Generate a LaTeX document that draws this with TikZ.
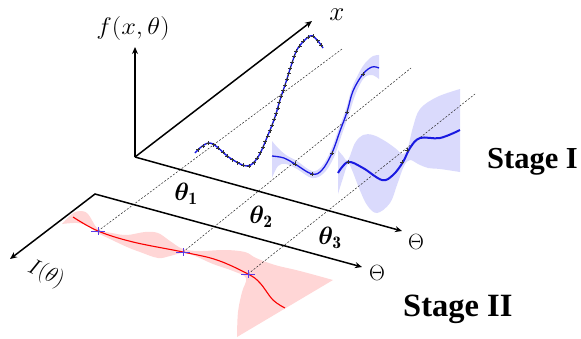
\RequirePackage{fix-cm}
\documentclass[tikz,border=0pt]{standalone}
\usepackage{amsmath}
\usepackage{bm}
\usepackage{fontspec}
\newfontfamily\stagefont{Liberation Serif}
\usetikzlibrary{arrows.meta,decorations.markings}
\definecolor{gpblue}{RGB}{25,25,225}
\definecolor{bandblue}{RGB}{218,218,252}
\definecolor{bandred}{RGB}{255,214,214}
\definecolor{gpred}{RGB}{250,0,0}
\definecolor{crossblue}{RGB}{90,60,230}
\begin{document}
\begin{tikzpicture}[x=1pt,y=-1pt,
  axis/.style={line width=1.5pt,-{Stealth[length=7pt,width=6pt]}},
  bothaxis/.style={line width=1.5pt,{Stealth[length=7pt,width=6pt]}-{Stealth[length=7pt,width=6pt]}},
  guide/.style={black!85,line width=0.5pt,dash pattern=on 2pt off 1.6pt},
  meanline/.style={gpblue,line width=1.4pt},
  datamarks/.style={postaction={decorate},decoration={markings,
     mark=between positions 0.02 and 0.99 step 6pt with {\pgftransformresetnontranslations
       \draw[black!80,line width=0.45pt] (-2pt,0pt)--(2pt,0pt) (0pt,-2pt)--(0pt,2pt);}}},
  blackcross/.style={black!80,line width=0.45pt},
  redcross/.style={crossblue,line width=0.8pt},
  lbl/.style={inner sep=0pt}]
\useasboundingbox (0,0) rectangle (581,338);

% coordinates of the axes
\coordinate (O) at (135,157);
\coordinate (Ftip) at (135,47);
\coordinate (Xtip) at (312,21);
\coordinate (Ttip) at (402,231);
\coordinate (LO) at (95,194);
\coordinate (Itip) at (10,259);
\coordinate (LTtip) at (362,267);

% data crosses (stage II)
\coordinate (c1) at (98,231);
\coordinate (c2) at (183,252);
\coordinate (c3) at (248,274);
\coordinate (e1) at (342,49);
\coordinate (e2) at (411,68);
\coordinate (e3) at (475,94);

% ---------- uncertainty bands ----------
\fill[bandblue] plot[smooth,tension=0.6] coordinates {(272,141) (278,148) (286,155) (297,161) (312,171) (322,166) (331,150) (339,128) (346,109) (352,88) (360,71) (366,62) (373,56) (379,55)}
  -- plot[smooth,tension=0.6] coordinates {(379,79) (372,75) (364,78) (356,93) (349,114) (342,134) (334,157) (324,173) (312,178) (297,169) (286,164) (278,166) (272,178)} -- cycle;

\fill[bandblue] plot[smooth,tension=0.6] coordinates {(338,150) (343,156) (348,160) (355,143) (363,135) (373,135) (385,141) (395,148) (403,154) (408,147) (413,127) (420,109) (437,97) (460,89)}
  -- plot[smooth,tension=0.6] coordinates {(460,172) (440,169) (428,168) (418,164) (410,160) (404,166) (397,185) (390,203) (377,213) (367,205) (359,188) (352,170) (348,164) (343,178) (338,194)} -- cycle;

\fill[bandred] plot[smooth,tension=0.6] coordinates {(62,224) (72,214) (80,211) (88,214) (98,229) (112,233) (127,235) (145,232) (158,233) (170,241) (183,249) (200,251) (225,250) (245,252) (256,258) (275,265) (300,271) (333,280)}
  -- plot[smooth,tension=0.6] coordinates {(237,337) (238,312) (242,292) (246,278) (233,271) (213,264) (195,256) (183,253) (170,256) (158,258) (140,252) (127,247) (110,239) (98,233) (88,226) (77,223) (62,224)} -- cycle;

% ---------- guide lines ----------
\draw[guide] (c1) -- (e1);
\draw[guide] (c2) -- (e2);
\draw[guide] (c3) -- (e3);

% ---------- axes ----------
\draw[axis] (O) -- (Ftip);
\draw[axis] (O) -- (Xtip);
\draw[axis] (O) -- (Ttip);
\draw[bothaxis] (Itip) -- (LO) -- (LTtip);

% ---------- stage I curves ----------
\draw[meanline,datamarks] plot[smooth,tension=0.6] coordinates {(195,153) (210,143) (230,158) (247,166) (258,157) (268,135) (275,117) (280,100) (286,82) (292,63) (298,48) (310,36) (317,40) (323,48)};

\draw[meanline,line width=1.3pt] plot[smooth,tension=0.6] coordinates {(272,156) (284,158) (295,164) (312,174) (322,170) (332,153) (340,131) (347,112) (353,91) (363,74) (372,67) (379,68)};
\foreach \p in {(295,164),(312,174),(332,153),(347,112),(363,74)}
  \draw[blackcross] \p ++(-2,0) -- ++(4,0) \p ++(0,-2) -- ++(0,4);

\draw[meanline,line width=2pt] plot[smooth,tension=0.6] coordinates {(338,173) (348,162) (363,168) (382,180) (393,175) (403,162) (410,148) (420,138) (440,138) (460,130)};
\foreach \p in {(348,162),(402,162),(407,150)}
  \draw[blackcross] \p ++(-2,0) -- ++(4,0) \p ++(0,-2) -- ++(0,4);

% ---------- stage II curve ----------
\draw[gpred,line width=1.1pt] plot[smooth,tension=0.6] coordinates {(73,217) (98,231) (133,242) (183,252) (217,260) (248,274) (260,283) (273,300) (285,308)};
\foreach \c in {c1,c2,c3}
  \draw[redcross] (\c) ++(-7,0) -- ++(14,0) (\c) ++(0,-4) -- ++(0,8);

% ---------- labels ----------
\node[lbl,xscale=1.1] (fl) at (133,28) {\fontsize{24}{28}\selectfont $f(x,\theta)$};
\node[lbl] (xl) at (337,15) {\fontsize{27}{30}\selectfont $x$};
\node[lbl] (tl1) at (416,242) {\fontsize{22}{26}\selectfont $\Theta$};
\node[lbl] (tl2) at (377,273) {\fontsize{22}{26}\selectfont $\Theta$};
\node[lbl,rotate=-25] (il) at (46,274) {\fontsize{22}{26}\selectfont $I(\theta)$};
\node[lbl] (th1) at (186,194) {\fontsize{25}{30}\selectfont $\bm{\theta}_{\mathbf{1}}$};
\node[lbl] (th2) at (261,217) {\fontsize{25}{30}\selectfont $\bm{\theta}_{\mathbf{2}}$};
\node[lbl] (th3) at (330,238) {\fontsize{25}{30}\selectfont $\bm{\theta}_{\mathbf{3}}$};
\node[lbl,anchor=base west] (s1) at (487,168) {\fontsize{30.5}{34}\selectfont\stagefont\bfseries Stage I};
\node[lbl,anchor=base west] (s2) at (403,316) {\fontsize{32.5}{36}\selectfont\stagefont\bfseries Stage II};
\end{tikzpicture}
\end{document}
